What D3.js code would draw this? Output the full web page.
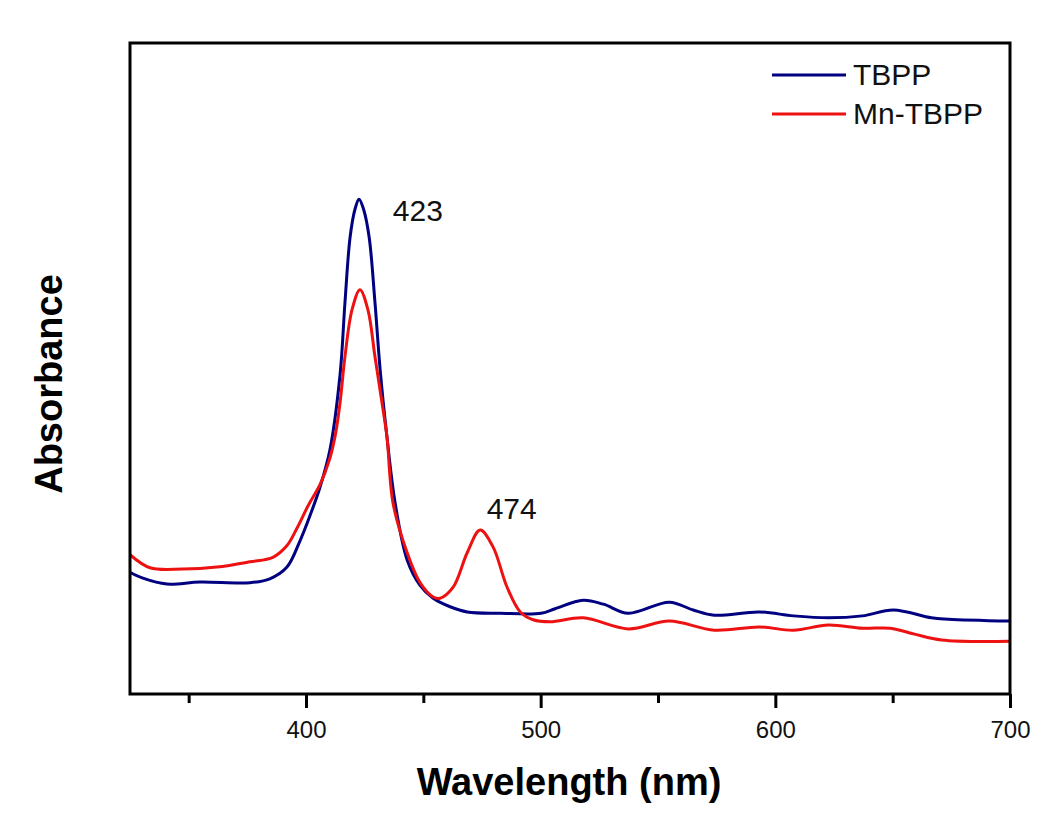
<!DOCTYPE html>
<html>
<head>
    <meta charset="UTF-8">
    <title>UV-Vis TBPP / Mn-TBPP</title>
    <script src="https://d3js.org/d3.v7.min.js"></script>
    <style>
        body {
            margin: 0;
            background: #fff;
            font-family: "Liberation Sans", Arial, sans-serif;
        }
    </style>
</head>
<body>
    <svg id="chart"></svg>
    <script>
        // wavelength (nm) and absorbance (arbitrary units)
        const tbppWl = [325, 330.5, 340.7, 354.8, 376.1, 384.6, 391.9, 397.4, 401.7, 406, 410.2, 414.5, 416.6, 418.8, 420.9,
            422.6, 424.5, 426.9, 429.4, 431.6, 434.5, 438, 443.1, 448.6, 454.2, 461.4, 468.7, 482.7, 500.2, 506.2,
            518.1, 526.7, 537.3, 554.8, 565, 574, 593.2, 607.7, 622.6, 637.1, 650.3, 666.5, 673.8, 700];
        const tbppAbs = [0.187, 0.178, 0.169, 0.172, 0.171, 0.177, 0.195, 0.235, 0.274, 0.318, 0.375, 0.49, 0.601, 0.702, 0.745,
            0.76, 0.745, 0.702, 0.601, 0.498, 0.395, 0.293, 0.206, 0.167, 0.147, 0.134, 0.126, 0.124, 0.124, 0.131,
            0.144, 0.138, 0.124, 0.141, 0.129, 0.121, 0.126, 0.12, 0.117, 0.12, 0.129, 0.117, 0.115, 0.112];

        const mnWl = [325, 333.5, 347.5, 362, 376.1, 385.9, 391.9, 396.2, 401, 406, 410, 412.6, 414.5, 416.6, 419.6, 423,
            426.4, 429.4, 432.4, 434.5, 437.1, 443.1, 448.6, 454.2, 457.1, 462.7, 468.7, 474.2, 479.7, 485.7, 491.3,
            496.8, 504.1, 518.1, 537.3, 554.8, 574, 593.2, 607.7, 622.6, 637.1, 649, 659.3, 670.8, 700];
        const mnAbs = [0.214, 0.194, 0.192, 0.195, 0.203, 0.21, 0.228, 0.255, 0.29, 0.322, 0.36, 0.4, 0.447, 0.518, 0.59, 0.621,
            0.59, 0.518, 0.447, 0.395, 0.293, 0.217, 0.171, 0.149, 0.147, 0.164, 0.217, 0.252, 0.226, 0.164, 0.126,
            0.114, 0.111, 0.117, 0.1, 0.112, 0.098, 0.103, 0.098, 0.106, 0.101, 0.101, 0.092, 0.083, 0.081];

        const majorTicks = [400, 500, 600, 700];
        const minorTicks = [350, 450, 550, 650];
        const seriesNames = ["TBPP", "Mn-TBPP"];
        const seriesColors = ["#000080", "#ee1111"];
        // peak labels, placed in data units (left edge / baseline of the text)
        const peakLabels = [{ wl: 437, abs: 0.727, text: "423" }, { wl: 477, abs: 0.269, text: "474" }];

        const width = 1064, height = 839;
        const margin = { top: 43, right: 54, bottom: 145, left: 130 };

        const svg = d3.select("#chart")
            .attr("width", width)
            .attr("height", height);

        const x = d3.scaleLinear().domain([325, 700]).range([margin.left, width - margin.right]);
        const y = d3.scaleLinear().domain([0, 1]).range([height - margin.bottom, margin.top]);

        svg.append("clipPath").attr("id", "clip")
            .append("rect")
            .attr("x", margin.left).attr("y", margin.top)
            .attr("width", x.range()[1] - margin.left)
            .attr("height", y.range()[0] - margin.top);

        const series = [
            d3.zip(tbppWl, tbppAbs),
            d3.zip(mnWl, mnAbs)
        ];

        const line = d3.line()
            .x(d => x(d[0]))
            .y(d => y(d[1]))
            .curve(d3.curveCatmullRom.alpha(0.5));

        svg.append("g").attr("clip-path", "url(#clip)")
            .selectAll("path")
            .data(series)
            .join("path")
            .attr("fill", "none")
            .attr("stroke", (d, i) => seriesColors[i])
            .attr("stroke-width", 3)
            .attr("stroke-linejoin", "round")
            .attr("d", line);

        // x axis: labelled major ticks plus short minor ones
        const xAxis = svg.append("g")
            .attr("transform", `translate(0,${y(0)})`)
            .call(d3.axisBottom(x).tickValues(majorTicks).tickSize(14).tickPadding(13).tickFormat(d3.format("d")));
        xAxis.select(".domain").remove();
        xAxis.selectAll("line").attr("stroke-width", 3);
        xAxis.selectAll("text")
            .attr("font-family", "Liberation Sans, Arial, sans-serif")
            .attr("font-size", 24)
            .attr("fill", "#111");

        const xMinor = svg.append("g")
            .attr("transform", `translate(0,${y(0)})`)
            .call(d3.axisBottom(x).tickValues(minorTicks).tickSize(9).tickFormat(""));
        xMinor.select(".domain").remove();
        xMinor.selectAll("line").attr("stroke-width", 3);

        // frame
        svg.append("rect")
            .attr("x", margin.left).attr("y", margin.top)
            .attr("width", x.range()[1] - margin.left)
            .attr("height", y.range()[0] - margin.top)
            .attr("fill", "none")
            .attr("stroke", "#000")
            .attr("stroke-width", 3);

        // peak annotations
        svg.selectAll(".peak")
            .data(peakLabels)
            .join("text")
            .attr("class", "peak")
            .attr("x", d => x(d.wl))
            .attr("y", d => y(d.abs))
            .attr("font-size", 30)
            .attr("fill", "#111")
            .text(d => d.text);

        // legend
        const legend = svg.append("g").attr("transform", "translate(772,75)");
        seriesNames.forEach((name, i) => {
            const g = legend.append("g").attr("transform", `translate(0,${i * 39})`);
            g.append("line")
                .attr("x1", 0).attr("x2", 74)
                .attr("stroke", seriesColors[i])
                .attr("stroke-width", 3);
            g.append("text")
                .attr("x", 81).attr("y", 10)
                .attr("font-size", 30)
                .attr("fill", "#111")
                .text(name);
        });

        // axis titles
        svg.append("text")
            .attr("x", (margin.left + x.range()[1]) / 2 - 1)
            .attr("y", 795)
            .attr("text-anchor", "middle")
            .attr("font-size", 38)
            .attr("font-weight", "bold")
            .text("Wavelength (nm)");

        svg.append("text")
            .attr("transform", "translate(62,384) rotate(-90)")
            .attr("text-anchor", "middle")
            .attr("font-size", 38)
            .attr("font-weight", "bold")
            .text("Absorbance");
    </script>
</body>
</html>
